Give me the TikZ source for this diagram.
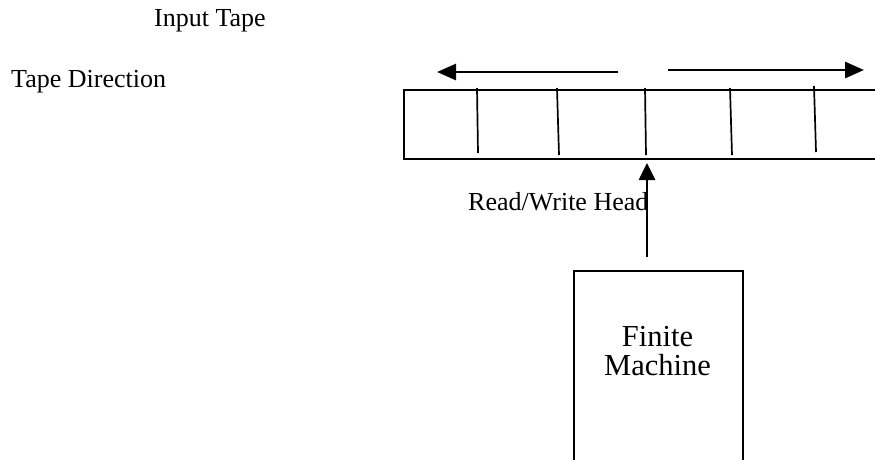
\documentclass[tikz,border=0pt]{standalone}
\usepackage{fontspec}
\setmainfont{Liberation Serif}
\usetikzlibrary{arrows.meta}
\tikzset{
  lbl/.style={inner sep=0pt, anchor=base west, font=\fontsize{26}{30}\selectfont},
  bigarrow/.style={line width=2.8pt, -{Triangle[length=19pt,width=16pt]}},
  cellline/.style={line width=1.7pt},
  frame/.style={draw, line width=2.2pt, inner sep=0pt, rectangle},
}
\begin{document}
\begin{tikzpicture}[x=1pt,y=-1pt]
  \useasboundingbox (0,0) rectangle (875,459);
  \clip (0,0) rectangle (875,459);

  % labels
  \node[lbl] (inputlbl) at (154,26.7) {Input Tape};
  \node[lbl] (dirlbl) at (11,87) {Tape Direction};
  \node[lbl] (headlbl) at (468,210) {Read/Write Head};

  % the tape (runs off the right edge)
  \node[frame, minimum width=520pt, minimum height=69pt, anchor=north west] (tape) at (403,88.5) {};

  % cell boundaries
  \draw[cellline] (477,88) -- (478,153);
  \draw[cellline] (557,88) -- (559,155);
  \draw[cellline] (645,88) -- (646,155);
  \draw[cellline] (730,88) -- (732,155);
  \draw[cellline] (814,86) -- (816,152);

  % tape direction arrows
  \coordinate (lstart) at (618,72);
  \coordinate (lend) at (437,72);
  \coordinate (rstart) at (668,70);
  \coordinate (rend) at (864,70);
  \draw[bigarrow] (lstart) -- (lend);
  \draw[bigarrow] (rstart) -- (rend);

  % finite control box (runs off the bottom edge)
  \node[draw, line width=1.6pt, inner sep=0pt, minimum width=169pt, minimum height=220pt, anchor=north west] (fsm) at (573,270) {};
  \node[inner sep=0pt, align=center, font=\fontsize{30.5}{29.5}\selectfont, anchor=base] (fsmlbl) at (657.5,375.5) {Finite\\Machine};

  % read/write head
  \coordinate (headtail) at (647,257);
  \coordinate (headtip) at (647,163);
  \draw[line width=2.7pt, -{Triangle[length=17pt,width=16pt]}] (headtail) -- (headtip);
\end{tikzpicture}
\end{document}
